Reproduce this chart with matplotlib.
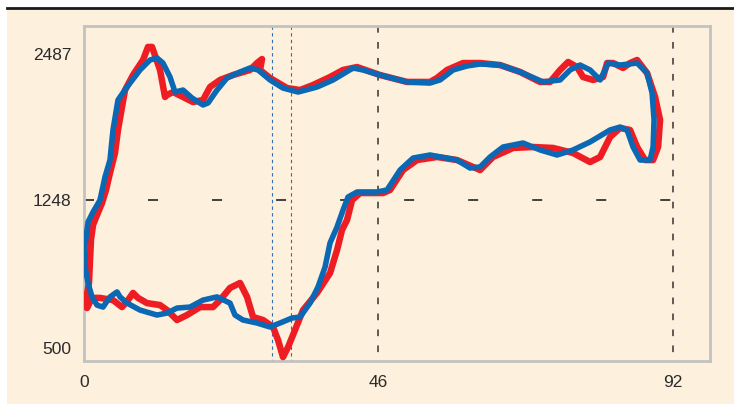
import numpy as np
import matplotlib
matplotlib.use("Agg")
import matplotlib.pyplot as plt
from matplotlib.patches import Rectangle
from matplotlib.lines import Line2D
from matplotlib.ticker import FixedLocator

plt.rcParams["lines.scale_dashes"] = False
FONT = ["Liberation Sans Narrow", "Liberation Sans", "DejaVu Sans"]

# ---- data -----------------------------------------------------------------
x_ticks = [0, 46, 92]
y_ticks = [500, 1248, 2487]
ref_level = 1248
marker_lines = [46, 92]
blue_marker = 29.3
red_marker = 32.4

blue_x = [0.16, 0.16, 0.63, 1.41, 2.5, 3.28, 4.06, 4.53, 5.31, 6.72, 8.75, 10.31,
          11.41, 12.34, 13.44, 14.22, 15.47, 16.88, 18.59, 19.38, 20.78, 22.34,
          24.38, 25.94, 27.19, 29.06, 31.09, 33.44, 36.41, 38.91, 42.03, 43.59,
          46.25, 50.47, 54.06, 55.63, 57.66, 59.84, 61.88, 65.0, 68.13, 71.72,
          74.38, 75.94, 77.5, 79.06, 80.63, 81.41, 81.88, 83.75, 86.41, 87.97,
          88.75, 89.06, 88.91, 88.44, 86.88, 85.78, 84.84, 83.75, 82.19, 79.06,
          76.41, 73.91, 71.25, 68.59, 65.47, 63.44, 61.88, 60.31, 58.28, 54.06,
          51.41, 49.38, 47.34, 45.78, 42.66, 41.25, 40.47, 39.53, 38.44, 37.66,
          36.56, 35.31, 33.75, 32.5, 30.63, 29.06, 27.03, 24.84, 23.59, 22.81,
          20.78, 18.59, 16.56, 14.53, 12.97, 11.41, 8.75, 6.72, 5.63, 5.16, 4.06,
          2.97, 2.03, 1.25, 0.63, 0.16]
blue_y = [909, 1020, 1135, 1185, 1245, 1440, 1584, 1840, 2095, 2206, 2351, 2436,
          2453, 2410, 2291, 2163, 2180, 2112, 2053, 2070, 2180, 2283,
          2334, 2368, 2351, 2266, 2197, 2163, 2206, 2266, 2368, 2351,
          2308, 2249, 2240, 2266, 2351, 2385, 2402, 2393, 2334, 2249,
          2266, 2351, 2393, 2351, 2266, 2351, 2410, 2393, 2410, 2325,
          2155, 1925, 1695, 1584, 1584, 1695, 1840, 1865, 1840, 1738,
          1670, 1627, 1670, 1729, 1695, 1610, 1525, 1516, 1584, 1627,
          1601, 1499, 1329, 1312, 1312, 1269, 1195, 1110, 1030, 909,
          809, 728, 658, 653, 628, 608, 628, 643, 668, 728,
          759, 743, 708, 703, 678, 668, 693, 728, 759, 784, 759,
          708, 718, 759, 829, 909]

red_x = [1.25, 0.47, 0.47, 0.78, 0.94, 1.09, 1.41, 2.03, 2.81, 3.44, 4.06, 4.84,
         5.31, 5.94, 6.41, 7.66, 9.22, 10.0, 10.63, 11.88, 12.66, 12.97, 13.91,
         15.47, 17.03, 18.59, 19.69, 21.25, 23.28, 25.94, 27.03, 27.81, 27.5,
         29.06, 31.72, 33.75, 35.78, 38.44, 40.47, 42.66, 46.25, 50.47, 54.06,
         55.16, 56.72, 59.22, 61.88, 65.0, 68.13, 71.25, 72.81, 74.38, 75.63,
         77.03, 77.97, 79.53, 81.09, 81.72, 82.66, 84.22, 85.31, 86.41, 87.97,
         89.22, 90.0, 89.69, 88.91, 87.66, 86.41, 85.31, 83.75, 82.19, 80.63,
         79.06, 76.41, 73.28, 70.16, 67.03, 63.91, 61.88, 60.78, 58.28, 55.16,
         52.03, 49.84, 47.81, 46.72, 43.13, 41.88, 41.09, 40.31, 39.53, 38.44,
         36.41, 34.22, 32.97, 31.88, 31.09, 30.31, 29.53, 27.97, 26.41, 25.47,
         24.38, 22.81, 21.25, 20.16, 18.13, 16.09, 14.53, 12.97, 11.88, 9.84,
         8.44, 7.66, 6.88, 5.94, 4.53, 2.5, 1.25]
red_y = [754, 703, 773, 829, 944, 1045, 1120, 1170, 1230, 1329, 1474, 1644,
         1840, 2036, 2180, 2308, 2436, 2547, 2547, 2351, 2121, 2138, 2163,
         2121, 2078, 2095, 2206, 2266, 2308, 2351, 2410, 2444, 2351,
         2283, 2197, 2180, 2223, 2291, 2351, 2376, 2308, 2249, 2249,
         2283, 2351, 2410, 2410, 2393, 2334, 2249, 2249, 2351, 2419,
         2376, 2291, 2266, 2291, 2410, 2410, 2368, 2410, 2436, 2325,
         2121, 1925, 1695, 1584, 1584, 1695, 1840, 1857, 1780, 1610,
         1567, 1644, 1687, 1695, 1687, 1610, 1499, 1525, 1584, 1610,
         1584, 1499, 1329, 1303, 1303, 1245, 1145, 1095, 994, 879,
         779, 693, 593, 507, 457, 543, 608, 643, 658, 759,
         829, 804, 743, 708, 708, 668, 643, 693, 718, 728,
         754, 779, 743, 708, 743, 754, 754]

# ---- piecewise-linear pressure axis ---------------------------------------
scale_vals = np.array([500.0, 1248.0, 2487.0])
scale_pos = np.array([12.5, 161.5, 307.0])
lo_slope = (scale_pos[1] - scale_pos[0]) / (scale_vals[1] - scale_vals[0])
hi_slope = (scale_pos[2] - scale_pos[1]) / (scale_vals[2] - scale_vals[1])


def fwd(v):
    v = np.asarray(v, dtype=float)
    return np.where(v <= scale_vals[1],
                    scale_pos[1] + (v - scale_vals[1]) * lo_slope,
                    scale_pos[1] + (v - scale_vals[1]) * hi_slope)


def inv(p):
    p = np.asarray(p, dtype=float)
    return np.where(p <= scale_pos[1],
                    scale_vals[1] + (p - scale_pos[1]) / lo_slope,
                    scale_vals[1] + (p - scale_pos[1]) / hi_slope)


# ---- figure ---------------------------------------------------------------
W, H = 734, 404
PEACH = "#fdf0dc"
fig = plt.figure(figsize=(W / 100, H / 100), dpi=100, facecolor="white")

fig.patches.append(Rectangle((7 / W, 0), 1 - 7 / W, 1 - 10 / H,
                             transform=fig.transFigure, facecolor=PEACH,
                             edgecolor="none", zorder=-5))
fig.lines.append(Line2D([7 / W, 1], [1 - 8 / H, 1 - 8 / H],
                        transform=fig.transFigure, color="#1a1a1a", lw=2.0,
                        zorder=-4))
# heading sits above the top edge; only its lowest strokes fall inside
fig.text(27 / W, 1 + 5.0 / H, "Pump pressure during the loading cycle",
         ha="left", va="baseline", fontsize=13, fontweight="bold",
         color="#111111", family=FONT, zorder=-4)

ax = fig.add_axes([84 / W, (H - 361) / H, (710 - 84) / W, (361 - 26) / H])
ax.set_zorder(2)
ax.set_facecolor(PEACH)
ax.set_yscale("function", functions=(fwd, inv))
ax.set_xlim(0, 97.8)
ymin, ymax = float(inv(0.0)), float(inv(335.0))
ax.set_ylim(ymin, ymax)

# reference lines
ax.plot([0, 92], [ref_level, ref_level], color="#333333", lw=1.3,
        dashes=(7.2, 38.9), zorder=2)
for xv in marker_lines:
    ax.plot([xv, xv], [ymax, ymin], color="#333333", lw=1.1,
            dashes=(4.8, 6.7), zorder=2)
ax.plot([blue_marker, blue_marker], [ymax, ymin], color="#2e6fb8", lw=0.8,
        dashes=(2.4, 2.4), zorder=2)
ax.plot([red_marker, red_marker], [ymax, ymin], color="#c03a3a", lw=0.8,
        dashes=(2.4, 2.4), zorder=2)

# loops
ax.plot(red_x, red_y, color="#ee1d24", lw=4.7, solid_joinstyle="round",
        solid_capstyle="round", zorder=3)
ax.plot(blue_x, blue_y, color="#0a68b4", lw=4.0, solid_joinstyle="round",
        solid_capstyle="round", zorder=4)

# axes styling
for s in ax.spines.values():
    s.set_color("#c2c2c2")
    s.set_linewidth(2.0)
ax.xaxis.set_major_locator(FixedLocator(x_ticks))
ax.yaxis.set_major_locator(FixedLocator(y_ticks))
ax.yaxis.set_minor_locator(FixedLocator([]))
ax.xaxis.set_minor_locator(FixedLocator([]))
ax.set_xticklabels([str(v) for v in x_ticks])
ax.set_yticklabels([str(v) for v in y_ticks])
ax.tick_params(axis="both", length=0, labelsize=12.5, labelcolor="#2b2b2b")
ax.tick_params(axis="y", pad=9)
ax.tick_params(axis="x", pad=10)
for lab in ax.get_xticklabels() + ax.get_yticklabels():
    lab.set_family(FONT)

fig.savefig("out.png", dpi=100, facecolor="white")
